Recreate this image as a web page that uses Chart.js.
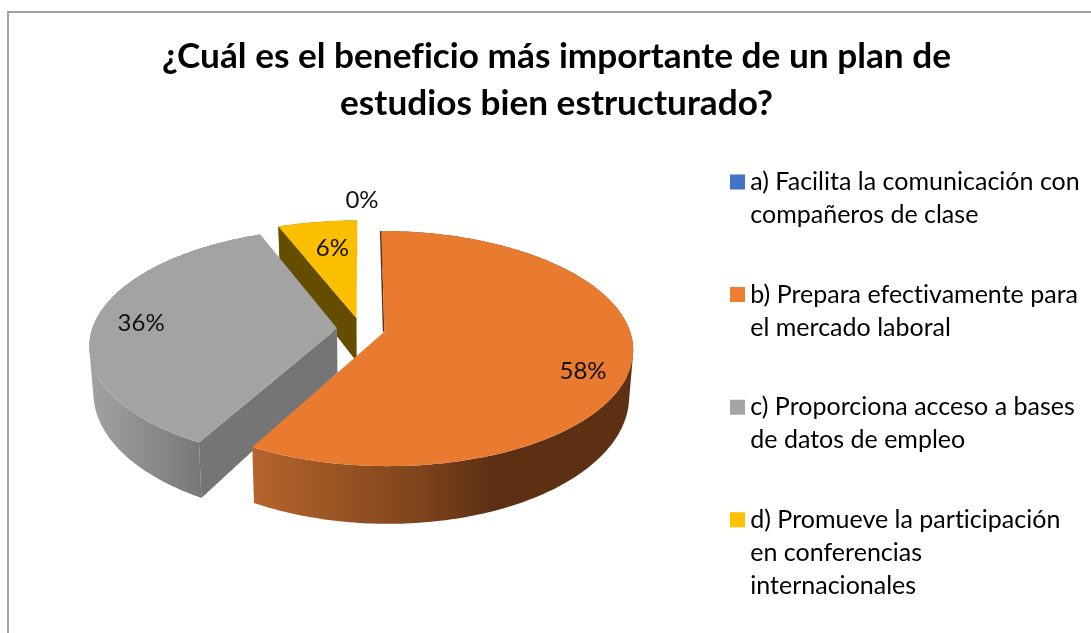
<!DOCTYPE html>
<html><head><meta charset="utf-8">
<script src="https://cdn.jsdelivr.net/npm/chart.js@4"></script>
<style>
html,body{margin:0;padding:0;background:#fff;overflow:hidden}
#frame{position:absolute;left:7px;top:11px;width:1090px;height:640px;border-left:2px solid #a8a8a8;border-top:2px solid #a0a0a0}
#c{position:absolute;left:0;top:0}
</style></head><body>
<div id="frame"></div>
<canvas id="c" width="1091" height="633"></canvas>
<script>
const titleLines = ['¿Cuál es el beneficio más importante de un plan de','estudios bien estructurado?'];
const categories = [
  ['a) Facilita la comunicación con','compañeros de clase'],
  ['b) Prepara efectivamente para','el mercado laboral'],
  ['c) Proporciona acceso a bases','de datos de empleo'],
  ['d) Promueve la participación','en conferencias','internacionales']
];
const values = [0, 58, 36, 6];
const colors = ['#4472C4','#ED7D31','#A5A5A5','#FFC000'];
const topColors = ['#4472C4','#E97B31','#A3A3A3','#FCBF00'];
const explodeOffset = 24;

// projection of the pie disc into the tilted view
const view = {ox:361, oy:329, rx:245, ry:114.4, p:0.142, depth:44.5, depthPow:1.65, floor:0.985};
const legendAt = {left:690.65, top:122.9};
const drawOrder = [3,2,1];
const rimStops = {
  1:[[254,'#B5642B'],[420,'#7E441C'],[490,'#5D3014'],[640,'#5D3014']],
  2:[[90,'#A2A2A2'],[205,'#767676']],
  3:[[270,'#7f6000'],[360,'#7f6000']]
};
const faceColors = {2:'#757575',3:'#654D00'};
const labelFrac = [1.3,0.8,0.8,0.8];
const labelNudge = [[1,5],[2,16],[-2,1],[8,9]];

function proj(a,b,e,mid,low){
  const A=a+e*Math.cos(mid), B=b+e*Math.sin(mid), w=1-view.p*B;
  let X=view.rx*A/w, Y=view.ry*B/w;
  if(low){X*=view.floor; Y+=view.depth/Math.pow(w,view.depthPow);}
  return [view.ox+X, view.oy+Y];
}
function ptsOf(el,e,low){
  const n=Math.max(2,Math.ceil(el.circumference*60)), mid=(el.startAngle+el.endAngle)/2, r=[];
  for(let i=0;i<=n;i++){const t=el.startAngle+el.circumference*i/n; r.push(proj(Math.cos(t),Math.sin(t),e,mid,low));}
  return r;
}
function trace(ctx,pts){
  pts.forEach((p,i)=>i?ctx.lineTo(p[0],p[1]):ctx.moveTo(p[0],p[1])); ctx.closePath();
}
function poly(ctx,pts,fill){
  ctx.beginPath(); trace(ctx,pts); ctx.fillStyle=fill; ctx.fill();
}
function area(q){
  let s=0; q.forEach((p,i)=>{const n=q[(i+1)%q.length]; s+=p[0]*n[1]-n[0]*p[1];}); return s;
}
const tilted = {
  id:'tilted',
  afterLayout(chart){
    chart.legend.left=legendAt.left; chart.legend.top=legendAt.top;
  },
  beforeDraw(chart){
    // keeps Lato from joining "fi" and "ti" into ligatures
    chart.ctx.letterSpacing='0.01px';
  },
  beforeDatasetDraw(chart,args){
    const ctx=chart.ctx, els=args.meta.data;
    ctx.save();
    drawOrder.forEach(i=>{
      const el=els[i], e=el.options.offset/view.rx, mid=(el.startAngle+el.endAngle)/2;
      const top=ptsOf(el,e,false), bot=ptsOf(el,e,true);
      const stops=rimStops[i], g=ctx.createLinearGradient(stops[0][0],0,stops[stops.length-1][0],0);
      const x0=stops[0][0], x1=stops[stops.length-1][0];
      stops.forEach(s=>g.addColorStop((s[0]-x0)/(x1-x0),s[1]));
      ctx.beginPath();
      for(let k=0;k<top.length-1;k++){
        const q=[top[k],top[k+1],bot[k+1],bot[k]];
        trace(ctx,area(q)<0?q.reverse():q);
      }
      ctx.fillStyle=g; ctx.fill('nonzero');
      const at=proj(0,0,e,mid,false), ab=proj(0,0,e,mid,true);
      if(faceColors[i]) poly(ctx,[at,top[0],bot[0],ab],faceColors[i]);
      if(i===1) poly(ctx,[[at[0]-1.5,at[1]],[top[0][0]-1.5,top[0][1]],top[0],at],'#5D3014');
      poly(ctx,[at].concat(top),el.options.backgroundColor);
    });
    ctx.restore();
    return false;
  },
  afterDraw(chart){
    const ctx=chart.ctx, els=chart.getDatasetMeta(0).data;
    ctx.save();
    ctx.font='24px Lato'; ctx.fillStyle='#111'; ctx.textAlign='center'; ctx.textBaseline='middle';
    els.forEach((el,i)=>{
      const mid=(el.startAngle+el.endAngle)/2, e=el.options.offset/view.rx, f=labelFrac[i];
      const p=proj(f*Math.cos(mid),f*Math.sin(mid),e,mid,false);
      ctx.fillText(values[i]+'%',p[0]+labelNudge[i][0],p[1]+labelNudge[i][1]);
    });
    ctx.restore();
  }
};
new Chart(document.getElementById('c'),{
  type:'pie',
  plugins:[tilted],
  data:{labels:categories,datasets:[{data:values,backgroundColor:topColors,offset:explodeOffset,borderWidth:0}]},
  options:{
    responsive:false,animation:false,
    layout:{padding:{left:22,right:0,top:0,bottom:0}},
    plugins:{
      tooltip:{enabled:false},
      title:{display:true,text:titleLines,color:'#000',align:'center',
        font:{family:'Lato',size:35.2,weight:'bold',lineHeight:1.31},padding:{top:34,bottom:40}},
      legend:{position:'right',align:'start',
        labels:{color:'#111',font:{family:'Lato',size:25,lineHeight:1.32},boxWidth:0.5,boxHeight:0.5,padding:46.6,
          generateLabels(chart){
            return categories.map((t,i)=>({text:t,fillStyle:colors[i],strokeStyle:colors[i],lineWidth:14.5,index:i}));
          }}
      }
    }
  }
});
</script>
</body></html>
